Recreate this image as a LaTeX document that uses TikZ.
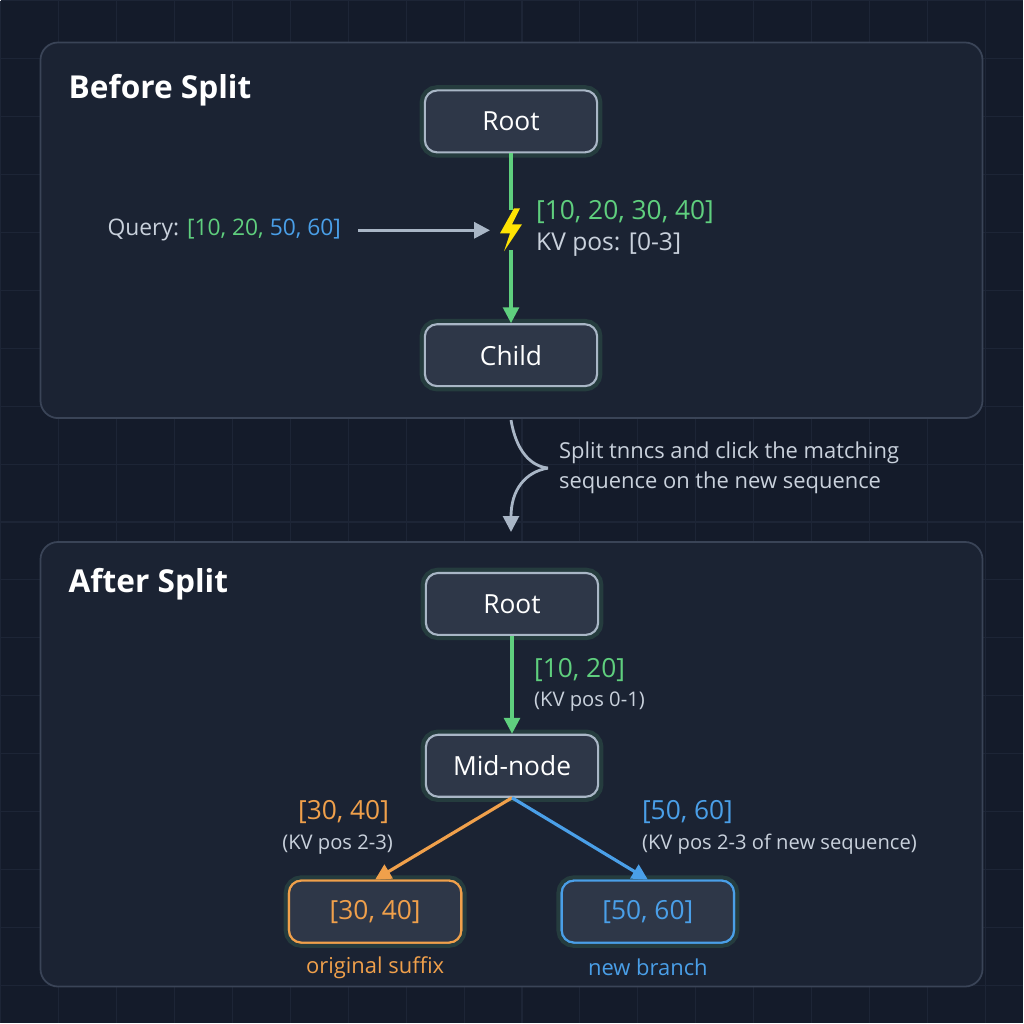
\documentclass[tikz,border=0pt]{standalone}
\usepackage{fontspec}
\setmainfont{Open Sans}
\usetikzlibrary{arrows.meta}
\definecolor{bgc}{HTML}{141B2A}
\definecolor{gridc}{HTML}{1D2536}
\definecolor{panelc}{HTML}{1B2333}
\definecolor{paneld}{HTML}{3A4457}
\definecolor{nodef}{HTML}{2E3748}
\definecolor{noded}{HTML}{A9B6C6}
\definecolor{greenc}{HTML}{5FCF7E}
\definecolor{bluec}{HTML}{4A9FE8}
\definecolor{orangec}{HTML}{F0A04B}
\definecolor{greyc}{HTML}{C9D1DC}
\definecolor{arrc}{HTML}{A9B6C6}
\tikzset{
  panel/.style={draw=paneld, line width=1pt, fill=panelc, rounded corners=10pt},
  treenode/.style={draw=#1, fill=nodef, line width=1.2pt, rounded corners=7pt,
    minimum width=3.45cm, minimum height=1.24cm, text=white, font=\fontsize{15}{17}\selectfont,
    preaction={draw=greenc, line width=6pt, opacity=0.15}},
  treenode/.default=noded,
  title/.style={anchor=west, text=white, font=\bfseries\fontsize{18}{22}\selectfont},
  seq/.style={font=\fontsize{15}{17}\selectfont},
  note/.style={text=greyc, font=\fontsize{11.5}{13}\selectfont},
  edge/.style={line width=1.8pt, -{Triangle[length=9pt,width=9pt]}},
}
\begin{document}
\begin{tikzpicture}[x=0.02cm, y=-0.02cm]
  \fill[bgc] (0,0) rectangle (1024,1024);
  \foreach \g in {0,58,...,1024} {
    \draw[gridc, line width=0.6pt] (\g,0) -- (\g,1024);
    \draw[gridc, line width=0.6pt] (0,\g) -- (1024,\g);
  }
  % panels
  \draw[panel] (40,42) rectangle (983,418);
  \draw[panel] (40,542) rectangle (983,987);
  \node[title] at (62,90) {Before Split};
  \node[title] at (62,584) {After Split};
  % before split
  \node[treenode] (root) at (511,121) {Root};
  \node[treenode] (child) at (511,355) {Child};
  \coordinate (hit) at (511,228);
  \draw[edge, greenc] (root) -- (child);
  \fill[panelc] (498,210) rectangle (524,250);
  \fill[yellow!85!orange] (514,208) -- (500,233) -- (510,233) -- (504,251) -- (522,224) -- (512,224) -- (520,208) -- cycle;
  \node[anchor=east, note, font=\fontsize{13}{15}\selectfont] (query) at (347,230)
    {Query: \textcolor{greenc}{[10, 20,} \textcolor{bluec}{50, 60]}};
  \draw[edge, arrc, line width=1.8pt] (358,230) -- (490,230);
  \node[anchor=west, seq, text=greenc] (seqa) at (530,212) {[10, 20, 30, 40]};
  \node[anchor=west, note, font=\fontsize{14}{16}\selectfont] (kva) at (530,244) {KV pos: [0-3]};
  % split step
  \coordinate (bt) at (511,420);
  \coordinate (bm) at (548,468);
  \coordinate (bb) at (511,532);
  \draw[arrc, line width=1.6pt] (bt) .. controls (516,450) and (530,466) .. (bm);
  \draw[arrc, line width=1.6pt, -{Triangle[length=9pt,width=9pt]}] (bm) .. controls (525,472) and (511,490) .. (bb);
  \node[anchor=west, note, font=\fontsize{12.5}{17}\selectfont, align=left] (splitnote) at (553,468)
    {Split tnncs and click the matching\\sequence on the new sequence};
  % after split
  \node[treenode] (root2) at (512,604) {Root};
  \node[treenode] (mid) at (512,766) {Mid-node};
  \draw[edge, greenc] (root2) -- (mid);
  \node[anchor=west, seq, text=greenc] (seqb) at (528,670) {[10, 20]};
  \node[anchor=west, note] (kvb) at (528,702) {(KV pos 0-1)};
  \node[treenode=orangec, text=orangec, preaction={draw=orangec}] (orig) at (375,912) {[30, 40]};
  \node[treenode=bluec, text=bluec, preaction={draw=bluec}] (newb) at (648,912) {[50, 60]};
  \draw[edge, orangec] (mid.south) -- (orig.north);
  \draw[edge, bluec] (mid.south) -- (newb.north);
  \node[anchor=east, seq, text=orangec] (seqc) at (395,812) {[30, 40]};
  \node[anchor=east, note] (kvc) at (399,845) {(KV pos 2-3)};
  \node[anchor=west, seq, text=bluec] (seqd) at (636,812) {[50, 60]};
  \node[anchor=west, note] (kvd) at (636,845) {(KV pos 2-3 of new sequence)};
  \node[note, text=orangec, font=\fontsize{12.5}{15}\selectfont] (origlab) at (375,968) {original suffix};
  \node[note, text=bluec, font=\fontsize{12.5}{15}\selectfont] (newlab) at (648,968) {new branch};
\end{tikzpicture}
\end{document}
